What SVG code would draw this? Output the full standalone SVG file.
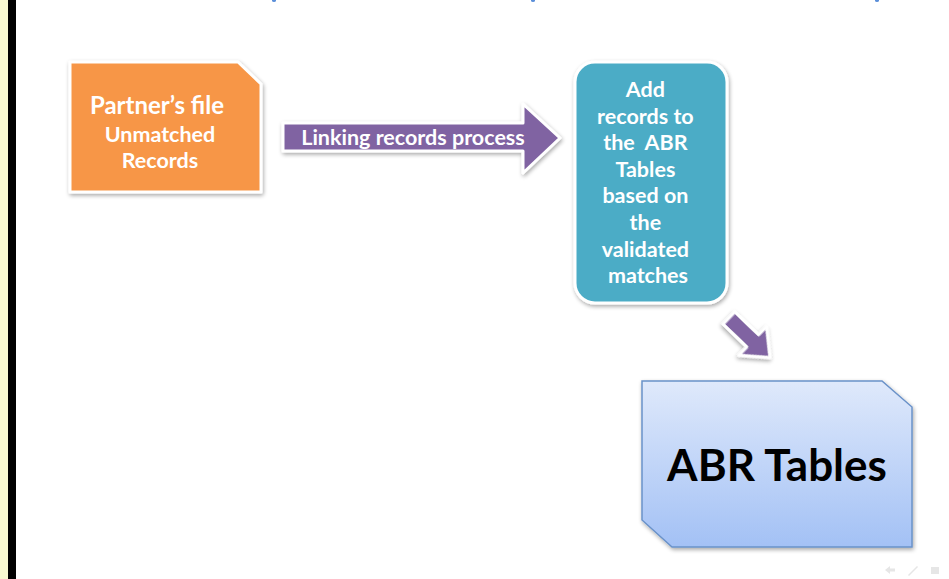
<svg xmlns="http://www.w3.org/2000/svg" width="949" height="579" viewBox="0 0 949 579">
<defs>
<style>
.lbl{font-family:Lato,"Open Sans","Liberation Sans",sans-serif;font-weight:bold;fill:#ffffff;text-anchor:middle}
.big{font-family:Lato,"Open Sans","Liberation Sans",sans-serif;font-weight:bold;fill:#000000;text-anchor:middle}
.frame{stroke:#ffffff;stroke-width:3;stroke-linejoin:round}
</style>
<linearGradient id="blueGrad" x1="0" y1="0" x2="0" y2="1">
<stop offset="0" stop-color="#dfe9fb"/>
<stop offset="1" stop-color="#a3c1f5"/>
</linearGradient>
<filter id="shadow" x="-10%" y="-10%" width="130%" height="130%">
<feGaussianBlur in="SourceAlpha" stdDeviation="2"/>
<feOffset dx="1" dy="2" result="b"/>
<feComponentTransfer><feFuncA type="linear" slope="0.35"/></feComponentTransfer>
<feMerge><feMergeNode/><feMergeNode in="SourceGraphic"/></feMerge>
</filter>
</defs>
<rect width="949" height="579" fill="#ffffff"/>
<rect x="0" y="0" width="8" height="579" fill="#f8f8d0"/>
<rect x="8" y="0" width="8" height="579" fill="#000000"/>
<g id="title-fragments" fill="#5b8fd9">
<ellipse cx="274" cy="0.5" rx="2" ry="1.5"/>
<ellipse cx="533" cy="0.5" rx="2" ry="1.5"/>
<ellipse cx="877" cy="0.5" rx="2" ry="1.5"/>
</g>
<g id="partners-file">
<path class="frame" d="M70,62 H238 L261,84 V192 H70 Z" fill="#f79646" filter="url(#shadow)"/>
<text class="lbl" x="157" y="114" font-size="24">Partner’s file</text>
<text class="lbl" x="160" y="142" font-size="21.5">Unmatched</text>
<text class="lbl" x="160" y="168" font-size="21.5">Records</text>
</g>
<g id="add-records">
<rect class="frame" x="575" y="62" width="152" height="241" rx="20" fill="#4bacc6" filter="url(#shadow)"/>
<text class="lbl" font-size="21.5">
<tspan x="648" y="97">Add</tspan>
<tspan x="648" y="124">records to</tspan>
<tspan x="648" y="150">the &#160;ABR</tspan>
<tspan x="648" y="177">Tables</tspan>
<tspan x="648" y="203">based on</tspan>
<tspan x="648" y="230">the</tspan>
<tspan x="648" y="257">validated</tspan>
<tspan x="648" y="283">matches</tspan>
</text>
</g>
<g id="abr-tables">
<path d="M642,381 H882 L912,407 V547 H672 L642,520 Z" fill="url(#blueGrad)" stroke="#6a92c9" stroke-width="1.5" filter="url(#shadow)"/>
<text class="big" x="777" y="481" font-size="44">ABR Tables</text>
</g>
<g id="connectors">
<g id="linking-arrow">
<path class="frame" d="M283,123 H523 V104 L560,138 L523,173 V151 H283 Z" fill="#8064a2" filter="url(#shadow)"/>
<text class="lbl" x="413" y="145" font-size="21.5">Linking records process</text>
</g>
<path class="frame" transform="translate(729,318) rotate(44)" d="M0,-8.5 H33 V-20 L57,0 L33,20 V8.5 H0 Z" fill="#8064a2" filter="url(#shadow)"/>
</g>
<g id="controls" fill="#e6e6e6">
<path d="M885,570 L890,566 V568.5 H895 V571.5 H890 V574 Z"/>
<path d="M908,575 L917,566 L918,567 L909,576 Z"/>
<rect x="931" y="567" width="8" height="7"/>
</g>
</svg>
